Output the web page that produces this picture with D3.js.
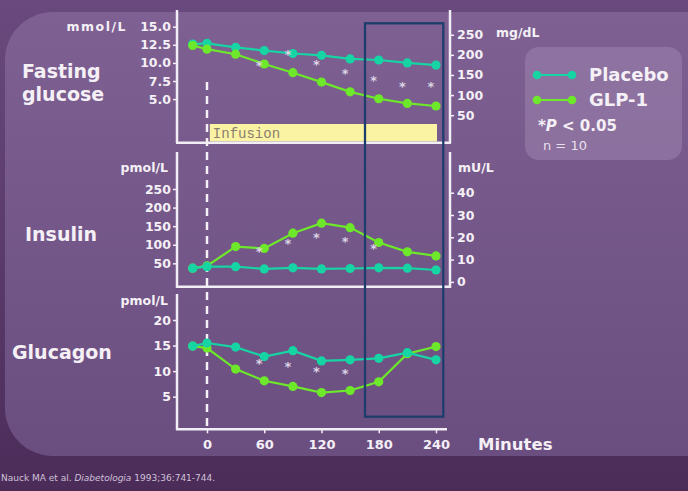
<!DOCTYPE html>
<html><head><meta charset="utf-8">
<script src="https://cdn.jsdelivr.net/npm/d3@7"></script>
<style>
html,body{margin:0;padding:0;background:#5a3b6b;overflow:hidden}
svg{display:block}
text{font-family:"DejaVu Sans",Verdana,sans-serif;fill:#f4f0f6}
</style></head>
<body>
<svg id="c" width="688" height="491"></svg>
<script>
// ---- data ----
const times = [-15, 0, 30, 60, 90, 120, 150, 180, 210, 240];
const xTickLabels = [0, 60, 120, 180, 240];

const glucosePlacebo = [12.6, 12.7, 12.15, 11.7, 11.3, 11.05, 10.55, 10.4, 10.0, 9.7];
const glucoseGLP1    = [12.4, 11.9, 11.2, 9.85, 8.65, 7.35, 6.0, 5.05, 4.4, 4.05];
const glucoseStarTimes  = [60, 90, 120, 150, 180, 210, 240];
const glucoseStarValues = [9.9, 11.3, 10.0, 8.8, 7.8, 6.9, 6.9];
const glucoseTicksMmol = [5.0, 7.5, 10.0, 12.5, 15.0];
const glucoseTicksMg   = [50, 100, 150, 200, 250];

const insulinPlacebo = [37, 41, 41, 35, 38, 35, 36, 38, 37, 32];
const insulinGLP1    = [37, 43, 95, 90, 131, 158, 146, 106, 81, 70];
const insulinStarTimes  = [60, 90, 120, 150, 180];
const insulinStarValues = [87, 108, 123, 113, 93];
const insulinTicksPmol = [50, 100, 150, 200, 250];
const insulinTicksMU   = [0, 10, 20, 30, 40];

const glucagonPlacebo = [14.9, 15.5, 14.7, 12.85, 14.0, 12.0, 12.2, 12.5, 13.6, 12.2];
const glucagonGLP1    = [14.9, 14.5, 10.4, 8.1, 7.0, 5.8, 6.2, 7.9, 13.4, 14.8];
const glucagonStarTimes  = [60, 90, 120, 150];
const glucagonStarValues = [11.8, 11.2, 10.2, 9.9];
const glucagonTicks = [5, 10, 15, 20];

const seriesNames = ["Placebo", "GLP-1"];
const seriesColors = ["#17d4a4", "#6de82a"];

// ---- drawing ----
const svg = d3.select("#c");
const defs = svg.append("defs");
const bgG = defs.append("linearGradient").attr("id","bg").attr("x1",0).attr("y1",0).attr("x2",0).attr("y2",1);
bgG.append("stop").attr("offset","0%").attr("stop-color","#6a4a7e");
bgG.append("stop").attr("offset","100%").attr("stop-color","#4b2c59");
const pG = defs.append("linearGradient").attr("id","pan").attr("x1",0).attr("y1",0).attr("x2",0).attr("y2",1);
pG.append("stop").attr("offset","0%").attr("stop-color","#7e6092");
pG.append("stop").attr("offset","100%").attr("stop-color","#6b4e80");

svg.append("rect").attr("width",688).attr("height",491).attr("fill","url(#bg)");
svg.append("rect").attr("x",5).attr("y",12).attr("width",740).attr("height",444).attr("rx",48).attr("fill","url(#pan)");

const x = d3.scaleLinear().domain([0, 240]).range([207, 436]);
const axisColor = "#f2eef5";
const xL = 177, xR = 450;

function vline(xp, y1, y2){ svg.append("line").attr("x1",xp).attr("x2",xp).attr("y1",y1).attr("y2",y2).attr("stroke",axisColor).attr("stroke-width",2.5); }
function hline(y, x1, x2){ svg.append("line").attr("x1",x1).attr("x2",x2).attr("y1",y).attr("y2",y).attr("stroke",axisColor).attr("stroke-width",2.5); }

function styleAxis(g, size){
  g.select(".domain").remove();
  g.selectAll(".tick line").attr("stroke",axisColor).attr("stroke-width",1.5);
  g.selectAll(".tick text").attr("fill","#f4f0f6").style("font-weight","bold").style("font-size",size+"px").style("font-family","'DejaVu Sans',sans-serif");
}

// Scales
const yGlu = d3.scaleLinear().domain([0, 15]).range([135.3, 26.7]);
const yGluMg = d3.scaleLinear().domain([0, 270]).range([135.3, 26.7]);
const yIns = d3.scaleLinear().domain([0, 250]).range([281.9, 189]);
const yInsMU = d3.scaleLinear().domain([0, 250/6]).range([281.9, 189]);
const yGcg = d3.scaleLinear().domain([0, 20]).range([422.2, 320]);

// Infusion bar (under data)
svg.append("rect").attr("x", x(3)).attr("y",124).attr("width", x(240)-x(3)+1).attr("height",17.5).attr("fill","#f9f3a3");
svg.append("text").attr("x", x(3)+3).attr("y",138).text("Infusion")
  .style("font-family","'Liberation Mono','DejaVu Sans Mono',monospace").style("font-size","14px").style("fill","#8b7d70");

// Axes lines
vline(xL, 10, 143); vline(xR, 10, 143); hline(142.7, xL-1, xR+1);
vline(xL, 152, 288); vline(xR, 152, 288); hline(286.7, xL-1, xR+1);
vline(xL, 294, 430); hline(429.3, xL-1, 447);

// Dashed infusion start line
svg.append("line").attr("x1",x(0)).attr("x2",x(0)).attr("y1",82).attr("y2",426)
  .attr("stroke","#f4f0f6").attr("stroke-width",2.5).attr("stroke-dasharray","8,6");

// Tick axes
styleAxis(svg.append("g").attr("transform",`translate(${xL},0)`).call(d3.axisLeft(yGlu).tickValues(glucoseTicksMmol).tickFormat(d3.format(".1f")).tickSize(4).tickPadding(2)), 12.5);
styleAxis(svg.append("g").attr("transform",`translate(${xR},0)`).call(d3.axisRight(yGluMg).tickValues(glucoseTicksMg).tickSize(4).tickPadding(3)), 12.5);
styleAxis(svg.append("g").attr("transform",`translate(${xL},0)`).call(d3.axisLeft(yIns).tickValues(insulinTicksPmol).tickSize(4).tickPadding(2)), 12.5);
styleAxis(svg.append("g").attr("transform",`translate(${xR},0)`).call(d3.axisRight(yInsMU).tickValues(insulinTicksMU).tickSize(4).tickPadding(3)), 12.5);
styleAxis(svg.append("g").attr("transform",`translate(${xL},0)`).call(d3.axisLeft(yGcg).tickValues(glucagonTicks).tickSize(4).tickPadding(2)), 12.5);
const xa = svg.append("g").attr("transform","translate(0,429.3)").call(d3.axisBottom(x).tickValues(xTickLabels).tickSize(4).tickPadding(6));
styleAxis(xa, 13);

// Unit labels
function label(t, xp, yp, anchor, size, weight){
  return svg.append("text").attr("x",xp).attr("y",yp).attr("text-anchor",anchor||"start")
    .style("font-size",(size||12.5)+"px").style("font-weight",weight||"bold").text(t);
}
label("mmol/L", 127, 31, "end").style("letter-spacing","1.5px");
label("mg/dL", 496, 37, "start");
label("pmol/L", 168, 172, "end");
label("mU/L", 458, 172, "start");
label("pmol/L", 168, 305, "end");
label("Minutes", 478, 450, "start", 16.5);

// Row titles
label("Fasting", 22, 78, "start", 19);
label("glucose", 22, 101, "start", 19);
label("Insulin", 25, 241, "start", 19);
label("Glucagon", 12, 359, "start", 19);

// Series
function drawSeries(vals, yS, color){
  const line = d3.line().x((d,i)=>x(times[i])).y(d=>yS(d));
  svg.append("path").datum(vals).attr("d",line).attr("fill","none").attr("stroke",color).attr("stroke-width",2.2);
  svg.append("g").selectAll("circle").data(vals).join("circle")
    .attr("cx",(d,i)=>x(times[i])).attr("cy",d=>yS(d)).attr("r",4.6).attr("fill",color);
}
function drawStars(ts, vs, yS){
  svg.append("g").selectAll("text").data(vs).join("text")
    .attr("x",(d,i)=>x(ts[i])-5).attr("y",d=>yS(d)+6).attr("text-anchor","middle")
    .style("font-size","13px").style("font-weight","bold").style("fill","#dcd3e4").text("*");
}
drawSeries(glucosePlacebo, yGlu, seriesColors[0]);
drawSeries(glucoseGLP1, yGlu, seriesColors[1]);
drawStars(glucoseStarTimes, glucoseStarValues, yGlu);
drawSeries(insulinGLP1, yIns, seriesColors[1]);
drawSeries(insulinPlacebo, yIns, seriesColors[0]);
drawStars(insulinStarTimes, insulinStarValues, yIns);
drawSeries(glucagonGLP1, yGcg, seriesColors[1]);
drawSeries(glucagonPlacebo, yGcg, seriesColors[0]);
drawStars(glucagonStarTimes, glucagonStarValues, yGcg);

// Highlight box
svg.append("rect").attr("x",365).attr("y",23.3).attr("width",78.3).attr("height",393.4)
  .attr("fill","none").attr("stroke","#1d3d6d").attr("stroke-width",2.3);

// Legend
const lg = svg.append("g");
lg.append("rect").attr("x",525).attr("y",47).attr("width",157).attr("height",113).attr("rx",14)
  .attr("fill","#a38bb6").attr("opacity",0.45);
seriesNames.forEach((n,i)=>{
  const yy = 75 + i*25;
  lg.append("line").attr("x1",537).attr("x2",572).attr("y1",yy).attr("y2",yy).attr("stroke",seriesColors[i]).attr("stroke-width",2.2);
  lg.append("circle").attr("cx",537).attr("cy",yy).attr("r",4.3).attr("fill",seriesColors[i]);
  lg.append("circle").attr("cx",572).attr("cy",yy).attr("r",4.3).attr("fill",seriesColors[i]);
  lg.append("text").attr("x",589).attr("y",yy+6).style("font-size","18px").style("font-weight","bold").text(n);
});
const pt = lg.append("text").attr("x",538).attr("y",131).style("font-size","15px").style("font-weight","bold");
pt.append("tspan").text("*");
pt.append("tspan").style("font-style","italic").text("P");
pt.append("tspan").text(" < 0.05");
lg.append("text").attr("x",543).attr("y",150).style("font-size","13px").style("fill","#e8e0ee").text("n = 10");

// Citation
const cit = svg.append("text").attr("x",1).attr("y",481).style("font-size","9px").style("fill","#cfc2d8");
cit.append("tspan").text("Nauck MA et al. ");
cit.append("tspan").style("font-style","italic").text("Diabetologia");
cit.append("tspan").text(" 1993;36:741-744.");
</script>
</body></html>
